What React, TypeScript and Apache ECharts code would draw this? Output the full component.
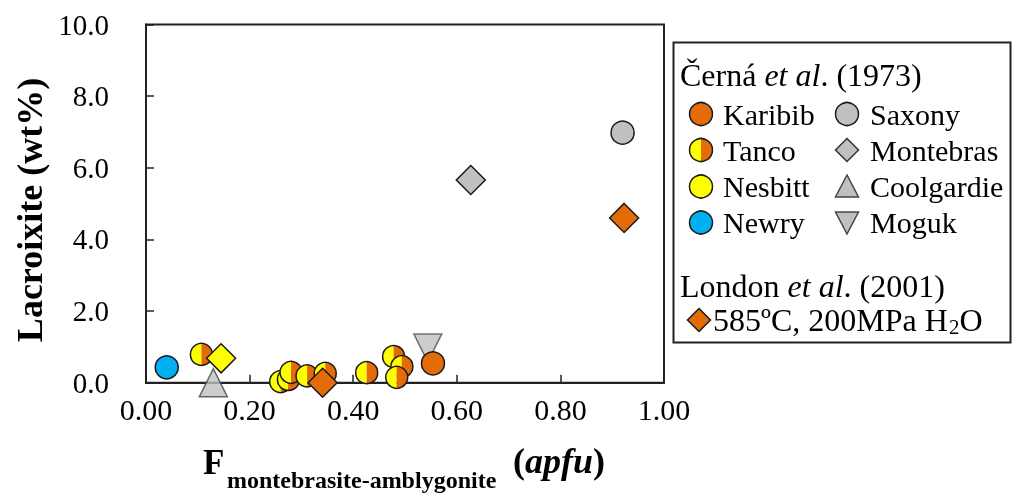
import React, { useEffect, useRef } from "react";
import * as echarts from "echarts";

const ORANGE = "#E36C09";
const YELLOW = "#FFFF00";
const BLUE = "#00B0F0";
const GRAY = "#C0C0C0";
const EDGE = "#1a1a1a";
const FONT = "'Liberation Serif', 'Times New Roman', serif";

// [F apfu, lacroixite wt%]
const karibib = [[0.554, 0.54]];
const tanco = [
  [0.107, 0.79], [0.260, 0.03], [0.275, 0.09], [0.280, 0.29], [0.311, 0.19],
  [0.346, 0.26], [0.426, 0.28], [0.478, 0.73], [0.494, 0.45], [0.484, 0.15],
];
const newry = [[0.040, 0.43]];
const nesbittDiamond = [[0.145, 0.68]];
const saxony = [[0.920, 6.98]];
const montebras = [[0.627, 5.66]];
const coolgardie = [[0.130, 0.0]];
const moguk = [[0.544, 0.97]];
const london = [[0.341, 0.0], [0.923, 4.60]];

const leftLegend = ["Karibib", "Tanco", "Nesbitt", "Newry"];
const rightLegend = ["Saxony", "Montebras", "Coolgardie", "Moguk"];

export default function App() {
  const ref = useRef<HTMLDivElement>(null);
  useEffect(() => {
    const chart = echarts.init(ref.current!, null, { renderer: "svg" });

    const rowY = [114, 150, 186.5, 222.5];
    const c1 = 701, c2 = 847, r = 11.5;
    const g: any[] = [];
    g.push({ type: "rect", shape: { x: 673.5, y: 42.5, width: 337, height: 300 }, style: { fill: "#fff", stroke: "#222", lineWidth: 2 }, z: 1 });
    const head = (s1: string, s2: string, top: number) => ({
      type: "text", left: 680, top, z: 2,
      style: {
        text: `{a|${s1} }{i|et al}{a|. ${s2}}`,
        rich: { a: { fontFamily: FONT, fontSize: 32, fill: "#000" }, i: { fontFamily: FONT, fontSize: 32, fontStyle: "italic", fill: "#000" } },
      },
    });
    g.push(head("Černá", "(1973)", 59));
    const txt = (s: string, x: number, y: number, size = 30) => ({
      type: "text", x, y, z: 2,
      style: { text: s, fontFamily: FONT, fontSize: size, fill: "#000", align: "left", verticalAlign: "middle" },
    });
    // left column
    g.push({ type: "circle", shape: { cx: c1, cy: rowY[0], r }, style: { fill: ORANGE, stroke: EDGE, lineWidth: 1.5 }, z: 2 });
    g.push({ type: "sector", shape: { cx: c1, cy: rowY[1], r, startAngle: Math.PI / 2, endAngle: Math.PI * 1.5 }, style: { fill: YELLOW }, z: 2 });
    g.push({ type: "sector", shape: { cx: c1, cy: rowY[1], r, startAngle: -Math.PI / 2, endAngle: Math.PI / 2 }, style: { fill: ORANGE }, z: 2 });
    g.push({ type: "circle", shape: { cx: c1, cy: rowY[1], r }, style: { fill: "none", stroke: EDGE, lineWidth: 1.5 }, z: 2 });
    g.push({ type: "circle", shape: { cx: c1, cy: rowY[2], r }, style: { fill: YELLOW, stroke: EDGE, lineWidth: 1.5 }, z: 2 });
    g.push({ type: "circle", shape: { cx: c1, cy: rowY[3], r }, style: { fill: BLUE, stroke: EDGE, lineWidth: 1.5 }, z: 2 });
    leftLegend.forEach((s, i) => g.push(txt(s, 723, rowY[i])));
    // right column
    g.push({ type: "circle", shape: { cx: c2, cy: rowY[0], r }, style: { fill: GRAY, stroke: EDGE, lineWidth: 1.5 }, z: 2 });
    g.push({ type: "polygon", shape: { points: [[c2, rowY[1] - r], [c2 + r, rowY[1]], [c2, rowY[1] + r], [c2 - r, rowY[1]]] }, style: { fill: GRAY, stroke: "#333", lineWidth: 1.5 }, z: 2 });
    g.push({ type: "polygon", shape: { points: [[c2, rowY[2] - r], [c2 + r, rowY[2] + r - 1], [c2 - r, rowY[2] + r - 1]] }, style: { fill: GRAY, stroke: "#444", lineWidth: 1.5 }, z: 2 });
    g.push({ type: "polygon", shape: { points: [[c2 - r, rowY[3] - r + 1], [c2 + r, rowY[3] - r + 1], [c2, rowY[3] + r]] }, style: { fill: GRAY, stroke: "#444", lineWidth: 1.5 }, z: 2 });
    rightLegend.forEach((s, i) => g.push(txt(s, 870, rowY[i])));
    // London
    g.push(head("London", "(2001)", 270));
    g.push({ type: "polygon", shape: { points: [[699, 320 - r], [699 + r, 320], [699, 320 + r], [699 - r, 320]] }, style: { fill: ORANGE, stroke: EDGE, lineWidth: 1.5 }, z: 2 });
    g.push(txt("585ºC, 200MPa H", 713, 320, 32));
    g.push(txt("2", 949, 327, 21));
    g.push(txt("O", 959.5, 320, 32));
    // axis titles
    g.push({
      type: "text", x: 30, y: 210, rotation: Math.PI / 2,
      style: { text: "Lacroixite (wt%)", fontFamily: FONT, fontSize: 36, fontWeight: "bold", fill: "#000", align: "center", verticalAlign: "middle" },
    });
    g.push({ type: "text", x: 203, y: 462, style: { text: "F", fontFamily: FONT, fontSize: 35, fontWeight: "bold", fill: "#000", align: "left", verticalAlign: "middle" } });
    g.push({ type: "text", x: 227, y: 480, style: { text: "montebrasite-amblygonite", fontFamily: FONT, fontSize: 24, fontWeight: "bold", fill: "#000", align: "left", verticalAlign: "middle" } });
    g.push({
      type: "text", x: 513, y: 461,
      style: {
        text: "{a|(}{b|apfu}{a|)}",
        rich: {
          a: { fontFamily: FONT, fontSize: 36, fontWeight: "bold", fill: "#000" },
          b: { fontFamily: FONT, fontSize: 36, fontWeight: "bold", fontStyle: "italic", fill: "#000" },
        },
        align: "left", verticalAlign: "middle",
      },
    });

    const sc = (name: string, data: number[][], symbol: string, size: number, color: string, extra: any = {}) => ({
      name, type: "scatter", data, symbol, symbolSize: size, clip: false,
      itemStyle: { color, borderColor: EDGE, borderWidth: 1.5, opacity: 1 },
      ...extra,
    });

    chart.setOption({
      animation: false,
      grid: { left: 146, top: 24.5, right: 349, bottom: 113.3, show: true, borderColor: "#222", borderWidth: 2, backgroundColor: "transparent" },
      xAxis: {
        type: "value", min: 0, max: 1, interval: 0.2,
        axisLine: { show: true, lineStyle: { color: "#222", width: 2 } },
        axisTick: { show: true, inside: true, length: 8, lineStyle: { color: "#222", width: 1.5 } },
        splitLine: { show: false },
        axisLabel: { formatter: (v: number) => v.toFixed(2), fontFamily: FONT, fontSize: 30, color: "#000", margin: 12 },
      },
      yAxis: {
        type: "value", min: 0, max: 10, interval: 2,
        axisLine: { show: true, lineStyle: { color: "#222", width: 2 } },
        axisTick: { show: true, inside: true, length: 8, lineStyle: { color: "#222", width: 1.5 } },
        splitLine: { show: false },
        axisLabel: { formatter: (v: number) => v.toFixed(1), fontFamily: FONT, fontSize: 29, color: "#000", margin: 37 },
      },
      graphic: g,
      series: [
        sc("Newry", newry, "circle", 23, BLUE),
        {
          name: "Tanco", type: "custom", data: tanco, clip: false,
          encode: { x: 0, y: 1 },
          renderItem: (params: any, api: any) => {
            const p = api.coord([api.value(0), api.value(1)]);
            const rr = 11;
            return {
              type: "group",
              children: [
                { type: "sector", shape: { cx: p[0], cy: p[1], r: rr, startAngle: Math.PI / 2, endAngle: Math.PI * 1.5 }, style: { fill: YELLOW } },
                { type: "sector", shape: { cx: p[0], cy: p[1], r: rr, startAngle: -Math.PI / 2, endAngle: Math.PI / 2 }, style: { fill: ORANGE } },
                { type: "circle", shape: { cx: p[0], cy: p[1], r: rr }, style: { fill: "none", stroke: EDGE, lineWidth: 1.5 } },
              ],
            };
          },
        },
        sc("Nesbitt (London)", nesbittDiamond, "diamond", 29, YELLOW),
        sc("Coolgardie", coolgardie, "triangle", 28, GRAY, { itemStyle: { color: GRAY, borderColor: "#444", borderWidth: 1.5 } }),
        sc("Moguk", moguk, "triangle", 28, GRAY, { symbolRotate: 180, itemStyle: { color: GRAY, borderColor: "#555", borderWidth: 1.5 } }),
        sc("Karibib", karibib, "circle", 23, ORANGE),
        sc("Saxony", saxony, "circle", 23, GRAY),
        sc("Montebras", montebras, "diamond", 29, GRAY),
        sc("London", london, "diamond", 29, ORANGE),
      ],
    });
    return () => chart.dispose();
  }, []);
  return <div ref={ref} style={{ position: "fixed", left: 0, top: 0, width: 1013, height: 496 }} />;
}
